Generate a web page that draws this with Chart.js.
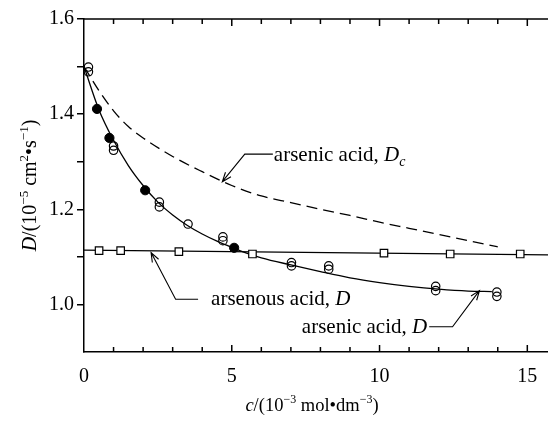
<!DOCTYPE html>
<html>
<head>
<meta charset="utf-8">
<script src="https://cdn.jsdelivr.net/npm/chart.js@4"></script>
<style>
  html, body { margin: 0; padding: 0; background: #fff; }
</style>
</head>
<body>
<canvas id="chart" width="548" height="423"></canvas>
<script>
// values: c in 10^-3 mol/dm3, D in 10^-5 cm2/s
const acidOpenC = [0.15, 0.15, 1.0, 1.0, 2.55, 2.55, 3.52, 4.7, 4.7, 7.02, 7.02, 8.28, 8.28, 11.9, 11.9, 13.97, 13.97];
const acidOpenD = [1.499, 1.489, 1.333, 1.324, 1.215, 1.205, 1.169, 1.142, 1.134, 1.088, 1.081, 1.081, 1.074, 1.038, 1.029, 1.026, 1.017];
const acidFilledC = [0.44, 0.86, 2.07, 5.08];
const acidFilledD = [1.411, 1.350, 1.240, 1.119];
const arsenousC = [0.51, 1.24, 3.21, 5.7, 10.15, 12.39, 14.76];
const arsenousD = [1.113, 1.113, 1.111, 1.106, 1.108, 1.106, 1.106];
const fitC = [0, 0.5, 1, 1.5, 2, 2.5, 3, 3.5, 4, 4.5, 5, 5.5, 6, 7, 8, 9, 10, 11, 12, 13, 13.8];
const fitD = [1.50, 1.41, 1.345, 1.292, 1.25, 1.215, 1.188, 1.166, 1.148, 1.133, 1.12, 1.108, 1.098, 1.083, 1.069, 1.056, 1.046, 1.038, 1.032, 1.028, 1.027];
const dcC = [0, 0.5, 1, 1.5, 2, 3, 4, 5, 6, 7, 8, 9, 10, 11, 12, 13, 14];
const dcD = [1.50, 1.45, 1.407, 1.374, 1.35, 1.311, 1.279, 1.25, 1.228, 1.214, 1.200, 1.187, 1.173, 1.160, 1.147, 1.134, 1.121];
const lineC = [0, 15.7];
const lineD = [1.114, 1.104];
const yLabels = [1.0, 1.2, 1.4, 1.6];
const xLabels = [0, 5, 10, 15];

const FONT = '"Liberation Serif", "Times New Roman", serif';
const pts = (xs, ys) => xs.map((x, i) => ({ x, y: ys[i] }));

// leader lines: tip -> elbow -> end (data coords), then text
const notes = [
  { tip: [4.68, 1.258], elbow: [5.44, 1.316], end: [6.39, 1.316], gap: 1, dy: 7, align: 'left',
    parts: [['arsenic acid, ', 'n'], ['D', 'i'], ['c', 'sub']] },
  { tip: [2.27, 1.109], elbow: [3.10, 1.011], end: [3.86, 1.011], gap: 13, dy: 6, align: 'left',
    parts: [['arsenous acid, ', 'n'], ['D', 'i']] },
  { tip: [13.38, 1.029], elbow: [12.47, 0.953], end: [11.68, 0.953], gap: 2, dy: 6, align: 'right',
    parts: [['arsenic acid, ', 'n'], ['D', 'i']] }
];

function fontFor(style, size) {
  if (style === 'i') return `italic ${size}px ${FONT}`;
  if (style === 'sup') return `${Math.round(size * 0.65)}px ${FONT}`;
  if (style === 'sub') return `italic ${Math.round(size * 0.65)}px ${FONT}`;
  return `${size}px ${FONT}`;
}

function drawRich(ctx, parts, x, y, size, align) {
  let w = 0;
  parts.forEach(([t, s]) => { ctx.font = fontFor(s, size); w += ctx.measureText(t).width; });
  let cx = align === 'right' ? x - w : align === 'center' ? x - w / 2 : x;
  ctx.textBaseline = 'alphabetic';
  ctx.textAlign = 'left';
  parts.forEach(([t, s]) => {
    ctx.font = fontFor(s, size);
    const off = s === 'sup' ? -size * 0.42 : s === 'sub' ? size * 0.22 : 0;
    ctx.fillText(t, cx, y + off);
    cx += ctx.measureText(t).width;
  });
}

function arrowHead(ctx, fx, fy, tx, ty) {
  const a = Math.atan2(ty - fy, tx - fx), L = 10, w = 0.36;
  ctx.moveTo(tx - L * Math.cos(a - w), ty - L * Math.sin(a - w));
  ctx.lineTo(tx, ty);
  ctx.lineTo(tx - L * Math.cos(a + w), ty - L * Math.sin(a + w));
}

const extras = {
  id: 'extras',
  afterDraw(chart) {
    const { ctx, chartArea: a, scales: { x, y } } = chart;
    ctx.save();
    ctx.strokeStyle = '#000';
    ctx.fillStyle = '#000';

    // top frame + inward ticks on top and bottom
    ctx.lineWidth = 1.5;
    ctx.beginPath();
    ctx.moveTo(a.left, a.top);
    ctx.lineTo(a.right, a.top);
    x.ticks.forEach(t => {
      if (!Number.isInteger(t.value) || t.value === 0) return;
      const px = x.getPixelForValue(t.value);
      const len = t.value % 5 === 0 ? 7 : 5;
      ctx.moveTo(px, a.top); ctx.lineTo(px, a.top + len);
      ctx.moveTo(px, a.bottom); ctx.lineTo(px, a.bottom - len);
    });
    ctx.stroke();

    // annotations
    ctx.lineWidth = 1.1;
    notes.forEach(n => {
      const tx = x.getPixelForValue(n.tip[0]), ty = y.getPixelForValue(n.tip[1]);
      const ex = x.getPixelForValue(n.elbow[0]), ey = y.getPixelForValue(n.elbow[1]);
      const sx = x.getPixelForValue(n.end[0]), sy = y.getPixelForValue(n.end[1]);
      ctx.beginPath();
      ctx.moveTo(sx, sy); ctx.lineTo(ex, ey); ctx.lineTo(tx, ty);
      arrowHead(ctx, ex, ey, tx, ty);
      ctx.stroke();
      const textX = n.align === 'left' ? sx + n.gap : sx - n.gap;
      drawRich(ctx, n.parts, textX, sy + n.dy, 21, n.align);
    });

    // axis titles
    drawRich(ctx, [['c', 'i'], ['/(10', 'n'], ['\u22123', 'sup'], [' mol\u2022dm', 'n'], ['\u22123', 'sup'], [')', 'n']],
      312, 411, 18.5, 'center');
    ctx.save();
    ctx.translate(36, (a.top + a.bottom) / 2);
    ctx.rotate(-Math.PI / 2);
    drawRich(ctx, [['D', 'i'], ['/(10', 'n'], ['\u22125', 'sup'], [' cm', 'n'], ['2', 'sup'], ['\u2022s', 'n'], ['\u22121', 'sup'], [')', 'n']],
      0, 0, 20, 'center');
    ctx.restore();
    ctx.restore();
  }
};

const tickFont = { family: FONT, size: 20 };

new Chart(document.getElementById('chart'), {
  type: 'scatter',
  data: {
    datasets: [
      { data: pts(acidOpenC, acidOpenD), pointStyle: 'circle', pointRadius: 4.2,
        backgroundColor: 'rgba(255,255,255,0)', borderColor: '#000', borderWidth: 1.2 },
      { data: pts(acidFilledC, acidFilledD), pointStyle: 'circle', pointRadius: 4.6,
        backgroundColor: '#000', borderColor: '#000', borderWidth: 1 },
      { data: pts(arsenousC, arsenousD), pointStyle: 'rect', pointRadius: 5.3,
        backgroundColor: '#fff', borderColor: '#000', borderWidth: 1.2 },
      { data: pts(fitC, fitD), showLine: true, pointRadius: 0, borderColor: '#000', borderWidth: 1.3,
        cubicInterpolationMode: 'monotone' },
      { data: pts(dcC, dcD), showLine: true, pointRadius: 0, borderColor: '#000', borderWidth: 1.3,
        borderDash: [11, 6], cubicInterpolationMode: 'monotone' },
      { data: pts(lineC, lineD), showLine: true, pointRadius: 0, borderColor: '#000', borderWidth: 1.3 }
    ]
  },
  options: {
    responsive: false,
    animation: false,
    layout: { autoPadding: false, padding: { top: 19, right: 0, left: 0, bottom: 0 } },
    plugins: { legend: { display: false }, tooltip: { enabled: false } },
    scales: {
      x: {
        type: 'linear', min: 0, max: 15.7,
        afterFit: s => { s.height = 71; s.paddingRight = 0; s.paddingLeft = 0; },
        ticks: {
          stepSize: 1, includeBounds: false, autoSkip: false, maxRotation: 0,
          padding: 13, color: '#000', font: tickFont,
          callback: v => xLabels.includes(v) ? String(v) : ''
        },
        grid: { drawOnChartArea: false, drawTicks: false },
        border: { color: '#000', width: 1.5 }
      },
      y: {
        min: 0.9, max: 1.6,
        afterFit: s => { s.width = 84; },
        ticks: {
          stepSize: 0.1, color: '#000', font: tickFont, padding: 3,
          callback: v => {
            if (Math.abs(v - 0.9) < 1e-6) return null;
            return yLabels.some(m => Math.abs(v - m) < 1e-6) ? v.toFixed(1) : '';
          }
        },
        grid: { drawOnChartArea: false, drawTicks: true, tickLength: 7, color: '#000', lineWidth: 1.5 },
        border: { color: '#000', width: 1.5 }
      }
    }
  },
  plugins: [extras]
});
</script>
</body>
</html>
